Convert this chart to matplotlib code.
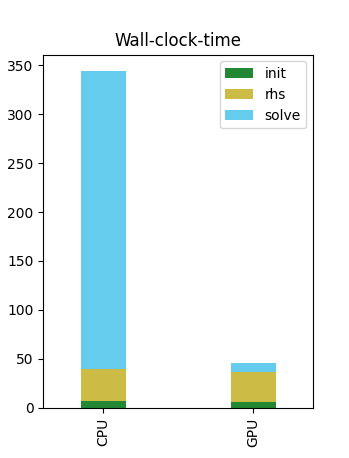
import numpy as np
import matplotlib
matplotlib.use("Agg")
import matplotlib.pyplot as plt

devices = ["CPU", "GPU"]
init = [6.8, 5.5]
rhs = [32.8, 31.4]
solve = [304.4, 8.5]

colors = {"init": "#228833", "rhs": "#CCBB44", "solve": "#66CCEE"}

fig = plt.figure(figsize=(3.49, 4.58), dpi=100)
ax = fig.add_axes([0.124, 0.11, 0.773, 0.771])

x = np.arange(len(devices))
w = 0.3
bottom = np.zeros(len(devices))
for name, vals in [("init", init), ("rhs", rhs), ("solve", solve)]:
    ax.bar(x, vals, w, bottom=bottom, color=colors[name], label=name)
    bottom += np.array(vals)

ax.set_xticks(x)
ax.set_xticklabels(devices, rotation=90)
ax.set_xlim(-0.4, 1.4)
ax.set_title("Wall-clock-time")
ax.legend(loc="upper right")

fig.savefig("out.png", dpi=100)
